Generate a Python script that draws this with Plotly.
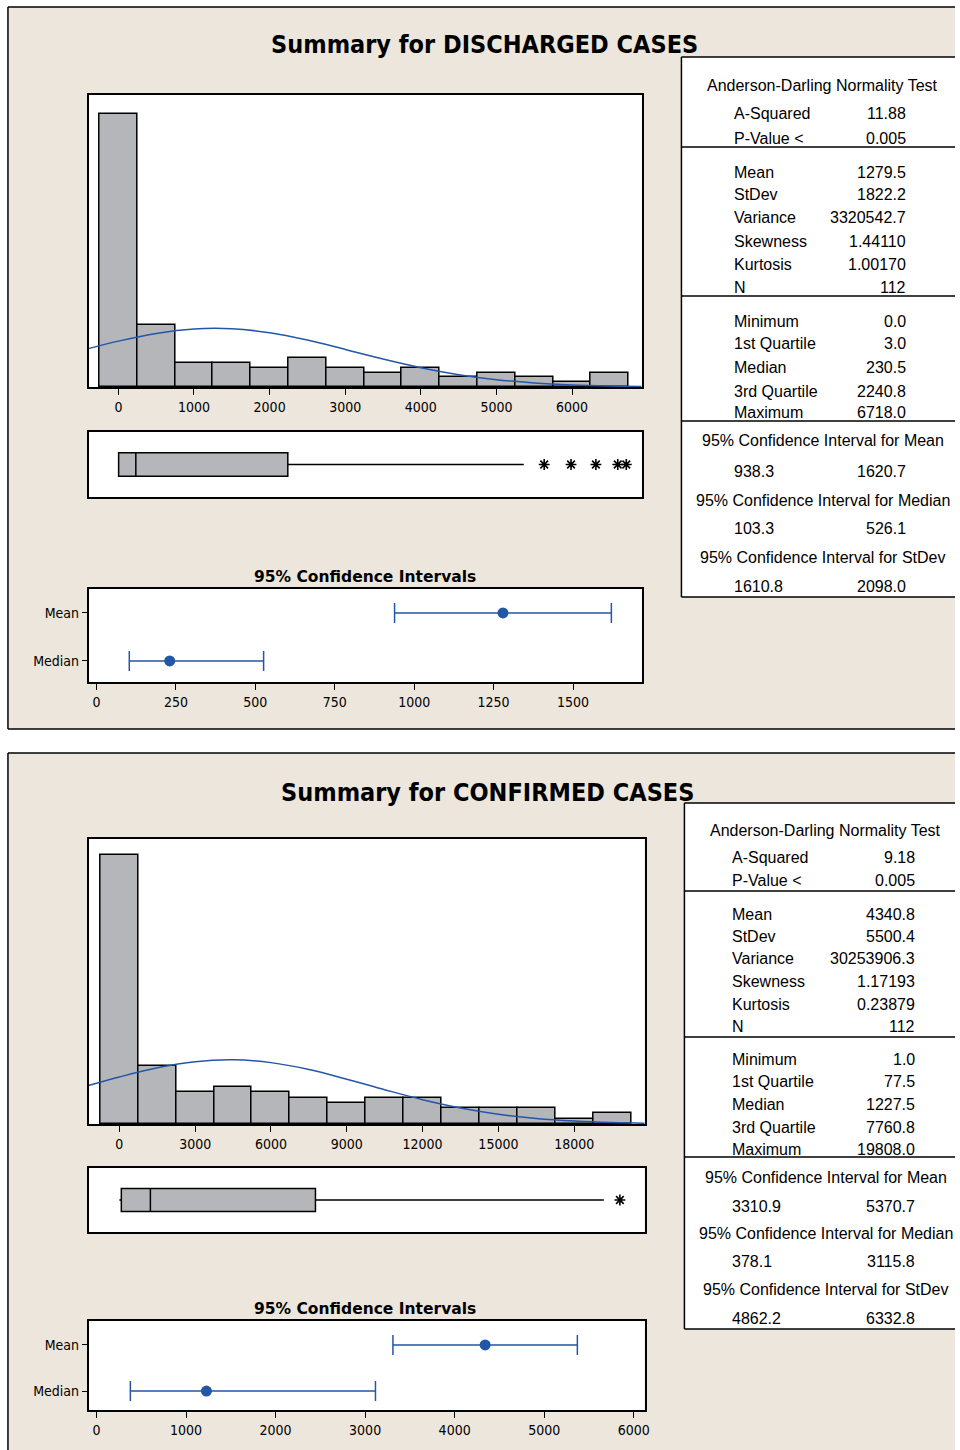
import plotly.graph_objects as go

# ---------------- DATA ----------------
# Panel 1: DISCHARGED CASES
BIN1 = [0, 500, 1000, 1500, 2000, 2500, 3000, 3500, 4000, 4500, 5000, 5500, 6000, 6500]
COUNT1 = [57, 13, 5, 5, 4, 6, 4, 3, 4, 2, 3, 2, 1, 3]
CURVE1_X = [-395, 0, 500, 1000, 1500, 2000, 2500, 3000, 3500, 4000, 4500, 5000, 5500, 6000, 6500, 6921]
CURVE1_Y = [8.02, 9.58, 11.19, 12.12, 12.17, 11.34, 9.80, 7.85, 5.83, 4.02, 2.57, 1.53, 0.84, 0.43, 0.20, 0.10]
HIST1_TICKS = [0, 1000, 2000, 3000, 4000, 5000, 6000]
MIN1, Q1_1, MED1, Q3_1, MAX1 = 0.0, 3.0, 230.5, 2240.8, 6718.0
WHISK1 = 5362
OUT1 = [5632, 5987, 6316, 6605, 6718]
MEAN1 = 1279.5
CI_MEAN1 = [938.3, 1620.7]
CI_MED1 = [103.3, 526.1]
CI1_TICKS = [0, 250, 500, 750, 1000, 1250, 1500]
TABLE1 = {
    "ad": [("A-Squared", "11.88"), ("P-Value <", "0.005")],
    "desc": [("Mean", "1279.5"), ("StDev", "1822.2"), ("Variance", "3320542.7"),
             ("Skewness", "1.44110"), ("Kurtosis", "1.00170"), ("N", "112")],
    "quart": [("Minimum", "0.0"), ("1st Quartile", "3.0"), ("Median", "230.5"),
              ("3rd Quartile", "2240.8"), ("Maximum", "6718.0")],
    "ci": [("95% Confidence Interval for Mean", "938.3", "1620.7"),
           ("95% Confidence Interval for Median", "103.3", "526.1"),
           ("95% Confidence Interval for StDev", "1610.8", "2098.0")],
}

# Panel 2: CONFIRMED CASES
BIN2 = [0, 1500, 3000, 4500, 6000, 7500, 9000, 10500, 12000, 13500, 15000, 16500, 18000, 19500]
COUNT2 = [51, 11, 6, 7, 6, 5, 4, 5, 5, 3, 3, 3, 1, 2]
CURVE2_X = [-1220, 0, 1500, 3000, 4500, 6000, 7500, 9000, 10500, 12000, 13500, 15000, 16500, 18000, 19500, 20790]
CURVE2_Y = [7.31, 8.93, 10.67, 11.83, 12.19, 11.65, 10.34, 8.51, 6.51, 4.62, 3.05, 1.87, 1.06, 0.56, 0.27, 0.14]
HIST2_TICKS = [0, 3000, 6000, 9000, 12000, 15000, 18000]
MIN2, Q1_2, MED2, Q3_2, MAX2 = 1.0, 77.5, 1227.5, 7760.8, 19808.0
WHISK2 = 19173
OUT2 = [19808]
MEAN2 = 4340.8
CI_MEAN2 = [3310.9, 5370.7]
CI_MED2 = [378.1, 3115.8]
CI2_TICKS = [0, 1000, 2000, 3000, 4000, 5000, 6000]
TABLE2 = {
    "ad": [("A-Squared", "9.18"), ("P-Value <", "0.005")],
    "desc": [("Mean", "4340.8"), ("StDev", "5500.4"), ("Variance", "30253906.3"),
             ("Skewness", "1.17193"), ("Kurtosis", "0.23879"), ("N", "112")],
    "quart": [("Minimum", "1.0"), ("1st Quartile", "77.5"), ("Median", "1227.5"),
              ("3rd Quartile", "7760.8"), ("Maximum", "19808.0")],
    "ci": [("95% Confidence Interval for Mean", "3310.9", "5370.7"),
           ("95% Confidence Interval for Median", "378.1", "3115.8"),
           ("95% Confidence Interval for StDev", "4862.2", "6332.8")],
}

# ---------------- STYLE ----------------
W, H = 960, 1450
BEIGE = "#ECE6DC"
GRAY = "#B5B6B9"
BLUE = "#2257A8"
NARROW = "DejaVu Sans Condensed, Liberation Sans Narrow, Arial Narrow, sans-serif"
TABLEF = "Liberation Sans, Arial, sans-serif"
TITLEF = "DejaVu Sans Condensed, Liberation Sans Narrow, DejaVu Sans, sans-serif"


def fx(p):
    return p / W


def fy(p):
    return 1 - p / H


fig = go.Figure()
shapes = []
annotations = []
layout_axes = {}


def axis_common():
    return dict(showline=True, mirror=True, linecolor="black", linewidth=1.5,
                showgrid=False, zeroline=False, fixedrange=True)


def hline(x0, x1, y, layer="above"):
    shapes.append(dict(type="line", xref="paper", yref="paper", x0=fx(x0), x1=fx(x1),
                       y0=fy(y), y1=fy(y), line=dict(color="black", width=1.5), layer=layer))


def vline(x, y0, y1, layer="above"):
    shapes.append(dict(type="line", xref="paper", yref="paper", x0=fx(x), x1=fx(x),
                       y0=fy(y0), y1=fy(y1), line=dict(color="black", width=1.5), layer=layer))


def add_panel(idx, top, bottom, title, title_x, title_y, bins, counts, binw, cx, cy, hticks,
              hx, hy, hrange, hymax, stats, whisk, outs, mean, ci_mean, ci_med,
              bx_y, ci_y, ci_title_y, ci_range, ci_ticks, ci_yr,
              table, tb, lab_x, val_x, head_x):
    n = 3 * idx
    ax = [f"x{n + k}" if n + k > 1 else "x" for k in (1, 2, 3)]
    ay = [f"y{n + k}" if n + k > 1 else "y" for k in (1, 2, 3)]
    akx = [f"xaxis{n + k}" if n + k > 1 else "xaxis" for k in (1, 2, 3)]
    aky = [f"yaxis{n + k}" if n + k > 1 else "yaxis" for k in (1, 2, 3)]

    shapes.append(dict(type="rect", xref="paper", yref="paper", x0=fx(8), x1=1.0,
                       y0=fy(min(bottom, H)), y1=fy(top), fillcolor=BEIGE,
                       line=dict(width=0), layer="below"))
    hline(8, W, top, "below")
    if bottom <= H:
        hline(8, W, bottom, "below")
    vline(8, top, min(bottom, H), "below")
    for (y0, y1) in [hy, bx_y, ci_y]:
        shapes.append(dict(type="rect", xref="paper", yref="paper", x0=fx(hx[0]), x1=fx(hx[1]),
                           y0=fy(y1), y1=fy(y0), fillcolor="white", line=dict(width=0),
                           layer="below"))

    annotations.append(dict(text=f"<b>{title}</b>", x=fx(title_x), y=fy(title_y),
                            xref="paper", yref="paper", showarrow=False,
                            font=dict(family=TITLEF, size=25, color="black"),
                            xanchor="center", yanchor="middle"))

    # histogram
    fig.add_trace(go.Bar(x=bins, y=counts, width=binw,
                         marker=dict(color=GRAY, line=dict(color="black", width=1.5)),
                         xaxis=ax[0], yaxis=ay[0], hoverinfo="skip"))
    fig.add_trace(go.Scatter(x=cx, y=cy, mode="lines",
                             line=dict(color=BLUE, width=1.5, shape="spline"),
                             xaxis=ax[0], yaxis=ay[0], hoverinfo="skip"))
    layout_axes[akx[0]] = dict(axis_common(), domain=[fx(hx[0]), fx(hx[1])], range=hrange,
                               tickvals=hticks, ticktext=[str(t) for t in hticks],
                               ticks="outside", ticklen=6, tickcolor="black",
                               tickfont=dict(family=NARROW, size=14, color="black"),
                               anchor=ay[0])
    layout_axes[aky[0]] = dict(axis_common(), domain=[fy(hy[1]), fy(hy[0])], range=[0, hymax],
                               showticklabels=False, ticks="", anchor=ax[0])

    # boxplot
    mn, q1, med, q3, mx = stats
    fig.add_trace(go.Box(orientation="h", y=[0], q1=[q1], median=[med], q3=[q3],
                         lowerfence=[mn], upperfence=[whisk], fillcolor=GRAY,
                         line=dict(color="black", width=1.5), width=0.72, whiskerwidth=0,
                         boxpoints=False, xaxis=ax[1], yaxis=ay[1], hoverinfo="skip"))
    fig.add_trace(go.Scatter(x=outs, y=[0] * len(outs), mode="markers",
                             marker=dict(symbol="asterisk-open", size=9, color="black",
                                         line=dict(color="black", width=1.6)),
                             xaxis=ax[1], yaxis=ay[1], hoverinfo="skip"))
    layout_axes[akx[1]] = dict(axis_common(), domain=[fx(hx[0]), fx(hx[1])], range=hrange,
                               showticklabels=False, ticks="", anchor=ay[1])
    layout_axes[aky[1]] = dict(axis_common(), domain=[fy(bx_y[1]), fy(bx_y[0])], range=[-1, 1],
                               showticklabels=False, ticks="", anchor=ax[1])

    # CI plot
    annotations.append(dict(text="<b>95% Confidence Intervals</b>", x=fx(367), y=fy(ci_title_y),
                            xref="paper", yref="paper", showarrow=False,
                            font=dict(family="DejaVu Sans, Verdana, sans-serif", size=15.5,
                                      color="black"),
                            xanchor="center", yanchor="middle"))
    pts = [mean, med]
    lo = [ci_mean[0], ci_med[0]]
    hi = [ci_mean[1], ci_med[1]]
    fig.add_trace(go.Scatter(x=pts, y=[1, 0], mode="markers",
                             marker=dict(color=BLUE, size=11),
                             error_x=dict(type="data", symmetric=False,
                                          array=[h - p for h, p in zip(hi, pts)],
                                          arrayminus=[p - l for p, l in zip(pts, lo)],
                                          color=BLUE, thickness=1.5, width=10),
                             xaxis=ax[2], yaxis=ay[2], hoverinfo="skip"))
    layout_axes[akx[2]] = dict(axis_common(), domain=[fx(hx[0]), fx(hx[1])], range=ci_range,
                               tickvals=ci_ticks, ticktext=[str(t) for t in ci_ticks],
                               ticks="outside", ticklen=6, tickcolor="black",
                               tickfont=dict(family=NARROW, size=14, color="black"),
                               anchor=ay[2])
    layout_axes[aky[2]] = dict(axis_common(), domain=[fy(ci_y[1]), fy(ci_y[0])], range=ci_yr,
                               tickvals=[0, 1], ticktext=["Median", "Mean"], ticks="outside",
                               ticklen=5, tickcolor="black",
                               tickfont=dict(family=NARROW, size=14, color="black"),
                               anchor=ax[2])

    # table
    tx0, ty0, ty1, seps, rows = tb
    shapes.append(dict(type="rect", xref="paper", yref="paper", x0=fx(tx0), x1=1.0,
                       y0=fy(ty1), y1=fy(ty0), fillcolor="white",
                       line=dict(width=0), layer="above"))
    for s in [ty0] + seps + [ty1]:
        hline(tx0, W, s)
    vline(tx0, ty0, ty1)

    def txt(t, x, y, anchor):
        annotations.append(dict(text=t, x=fx(x), y=fy(y), xref="paper", yref="paper",
                                showarrow=False, xanchor=anchor, yanchor="middle",
                                font=dict(family=TABLEF, size=16, color="black")))

    txt("Anderson-Darling Normality Test", head_x, rows[0], "center")
    pairs = table["ad"] + table["desc"] + table["quart"]
    for (lab, val), ry in zip(pairs, rows[1:14]):
        txt(lab, lab_x, ry, "left")
        txt(val, val_x, ry, "right")
    for k, (head, a, b) in enumerate(table["ci"]):
        txt(head, head_x, rows[14 + 2 * k], "center")
        txt(a, lab_x, rows[15 + 2 * k], "left")
        txt(b, val_x, rows[15 + 2 * k], "right")


add_panel(0, 7, 729, "Summary for DISCHARGED CASES", 487, 45,
          BIN1, COUNT1, 500, CURVE1_X, CURVE1_Y, HIST1_TICKS,
          (89, 645), (95, 387), [-395, 6921], 61,
          (MIN1, Q1_1, MED1, Q3_1, MAX1), WHISK1, OUT1, MEAN1, CI_MEAN1, CI_MED1,
          (432, 497), (589, 682), 577, [-25, 1716], CI1_TICKS, [-0.44, 1.5],
          TABLE1,
          (685, 57, 597, [147, 296, 421],
           [85, 113, 138, 172, 194, 217, 241, 264, 287, 321, 343, 367, 391, 413,
            441, 471, 500, 528, 557, 586]),
          736, 913, 827)

add_panel(1, 753, 1460, "Summary for CONFIRMED CASES", 490, 792,
          BIN2, COUNT2, 1500, CURVE2_X, CURVE2_Y, HIST2_TICKS,
          (89, 648), (839, 1124), [-1220, 20787], 54.1,
          (MIN2, Q1_2, MED2, Q3_2, MAX2), WHISK2, OUT2, MEAN2, CI_MEAN2, CI_MED2,
          (1168, 1232), (1321, 1410), 1309, [-89, 6122], CI2_TICKS, [-0.41, 1.52],
          TABLE2,
          (688, 803, 1329, [891, 1037, 1157],
           [830, 857, 880, 914, 936, 958, 982, 1004, 1026, 1059, 1081, 1104, 1127, 1149,
            1177, 1206, 1233, 1261, 1289, 1318]),
          734, 922, 830)

fig.update_layout(width=W, height=H, autosize=False, margin=dict(l=0, r=0, t=0, b=0),
                  paper_bgcolor="white", plot_bgcolor="white", showlegend=False,
                  bargap=0, shapes=shapes, annotations=annotations, **layout_axes)

POST = ("document.documentElement.style.margin='0';"
        "document.documentElement.style.overflow='hidden';"
        "document.body.style.margin='0';"
        "document.body.style.overflow='hidden';"
        "document.body.style.height='1450px';"
        "var g=document.getElementById('{plot_id}');"
        "g.style.position='fixed';g.style.left='0px';g.style.top='0px';")

fig.write_html("out.html", config={"displayModeBar": False}, post_script=POST)
